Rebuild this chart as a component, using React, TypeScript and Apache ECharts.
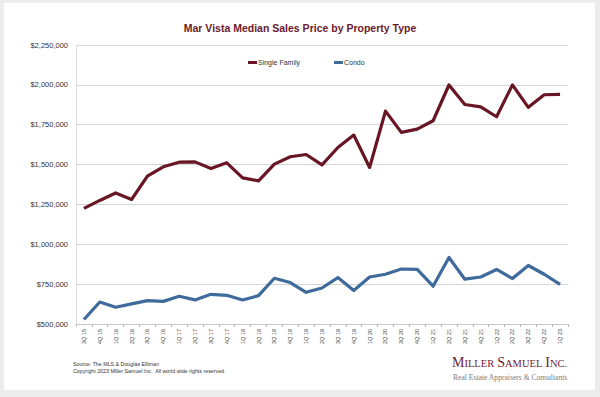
import React, { useEffect, useRef } from "react";
import * as echarts from "echarts";

const quarters = [
  "3Q 15", "4Q 15", "1Q 16", "2Q 16", "3Q 16", "4Q 16", "1Q 17", "2Q 17", "3Q 17", "4Q 17",
  "1Q 18", "2Q 18", "3Q 18", "4Q 18", "1Q 19", "2Q 19", "3Q 19", "4Q 19", "1Q 20", "2Q 20",
  "3Q 20", "4Q 20", "1Q 21", "2Q 21", "3Q 21", "4Q 21", "1Q 22", "2Q 22", "3Q 22", "4Q 22", "1Q 23",
];

const singleFamily = [
  1225000, 1275000, 1322000, 1281000, 1427000, 1486000, 1515000, 1517000, 1476000, 1511000,
  1417000, 1398000, 1503000, 1549000, 1563000, 1498000, 1607000, 1685000, 1482000, 1835000,
  1702000, 1722000, 1775000, 1999000, 1877000, 1862000, 1800000, 2000000, 1859000, 1938000, 1940000,
];

const condo = [
  528000, 638000, 605000, 626000, 647000, 642000, 674000, 651000, 686000, 680000,
  651000, 678000, 787000, 760000, 699000, 726000, 791000, 710000, 795000, 812000,
  845000, 843000, 737000, 917000, 781000, 795000, 842000, 785000, 867000, 812000, 749000,
];

const yMin = 500000;
const yMax = 2250000;
const yStep = 250000;

const title = "Mar Vista Median Sales Price by Property Type";
const sourceText = "Source: The MLS & Douglas Elliman";
const copyrightText = "Copyright 2023 Miller Samuel Inc.  All world wide rights reserved.";

export default function App() {
  const ref = useRef<HTMLDivElement>(null);
  useEffect(() => {
    document.body.style.margin = "0";
    const chart = echarts.init(ref.current!, null, { renderer: "svg" });
    const font = "'Liberation Sans', Arial, sans-serif";
    const serif = "'Liberation Serif', 'Times New Roman', serif";
    chart.setOption({
      animation: false,
      backgroundColor: "#ececec",
      textStyle: { fontFamily: font },
      title: {
        text: title,
        left: "center",
        top: 17,
        textStyle: { fontSize: 10.5, fontWeight: "bold", color: "#6b1a2c", fontFamily: font },
      },
      legend: {
        left: 248,
        top: 59,
        padding: 0,
        itemGap: 34,
        itemWidth: 9,
        itemHeight: 3,
        icon: "rect",
        textStyle: { fontSize: 7, color: "#333", padding: [0, 0, 0, -4] },
        data: ["Single Family", "Condo"],
      },
      grid: { left: 76, right: 32, top: 45, bottom: 73, containLabel: false },
      xAxis: {
        type: "category",
        data: quarters,
        boundaryGap: true,
        axisLine: { show: true, lineStyle: { color: "#c8c8c8", width: 1 } },
        axisTick: { show: true, length: 3, lineStyle: { color: "#b8b8b8" } },
        axisLabel: { interval: 0, rotate: 90, fontSize: 5.5, color: "#444", margin: 5 },
        splitLine: { show: false },
      },
      yAxis: {
        type: "value",
        min: yMin,
        max: yMax,
        interval: yStep,
        axisLine: { show: true, lineStyle: { color: "#dcdcdc", width: 1 } },
        axisTick: { show: false },
        axisLabel: {
          fontSize: 7.5,
          color: "#333",
          margin: 8,
          formatter: (v: number) => "$" + v.toLocaleString("en-US"),
        },
        splitLine: { show: true, lineStyle: { color: "#d6d6d6", width: 1 } },
      },
      series: [
        {
          name: "Single Family",
          type: "line",
          data: singleFamily,
          symbol: "none",
          itemStyle: { color: "#681624" },
          lineStyle: { color: "#681624", width: 3.2, join: "round" },
        },
        {
          name: "Condo",
          type: "line",
          data: condo,
          symbol: "none",
          itemStyle: { color: "#3f6b9c" },
          lineStyle: { color: "#3f6b9c", width: 3.2, join: "round" },
        },
      ],
      graphic: [
        {
          type: "rect",
          z: -10,
          silent: true,
          shape: { x: 4, y: 3, width: 591, height: 387 },
          style: { fill: "#ffffff" },
        },
        {
          type: "text",
          x: 73,
          y: 361,
          style: { text: sourceText, fontSize: 5.3, fill: "#333", fontFamily: font },
        },
        {
          type: "text",
          x: 73,
          y: 368.5,
          style: { text: copyrightText, fontSize: 5.3, fill: "#333", fontFamily: font },
        },
        {
          type: "text",
          x: 452,
          y: 355,
          style: {
            text: "{b|M}{s|ILLER} {b|S}{s|AMUEL} {b|I}{s|NC.}",
            fontFamily: serif,
            rich: {
              b: { fontSize: 14, fill: "#6e2233", fontFamily: serif, verticalAlign: "bottom" },
              s: { fontSize: 10.5, fill: "#6e2233", fontFamily: serif, verticalAlign: "bottom" },
            },
          },
        },
        {
          type: "text",
          x: 453,
          y: 373.5,
          style: {
            text: "Real Estate Appraisers & Consultants",
            fontSize: 7.6,
            fill: "#7a7a7a",
            fontFamily: serif,
          },
        },
      ],
    });
    return () => chart.dispose();
  }, []);
  return <div ref={ref} style={{ width: 600, height: 397, position: "absolute", left: 0, top: 0 }} />;
}
